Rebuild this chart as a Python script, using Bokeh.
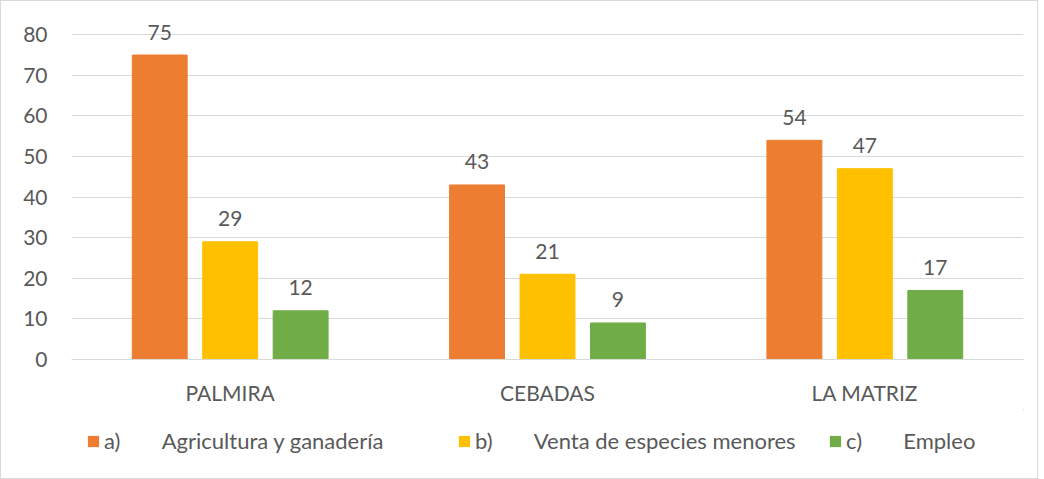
from bokeh.plotting import figure
from bokeh.models import (FactorRange, Range1d, FixedTicker, ColumnDataSource, LabelSet,
                          Legend, LegendItem)
from bokeh.core.properties import value
from bokeh.transform import dodge
from bokeh.layouts import column
from bokeh.embed import file_html
from bokeh.resources import INLINE

categories = ["PALMIRA", "CEBADAS", "LA MATRIZ"]
agricultura = [75, 43, 54]
venta = [29, 21, 47]
empleo = [12, 9, 17]
series_names = ["a)\u2003\u2002\u2009\u2002Agricultura y ganadería",
                "b)\u2003\u2002\u2009\u2002Venta de especies menores",
                "c)\u2003\u2002\u2009\u2002Empleo"]
colors = ["#ED7D31", "#FFC000", "#70AD47"]
y_ticks = [0, 10, 20, 30, 40, 50, 60, 70, 80]

FONT = "Lato"
TXT = "#595959"
GRID = "#d9d9d9"

src = ColumnDataSource(dict(cat=categories, a=agricultura, b=venta, c=empleo,
                            la=[str(v) for v in agricultura],
                            lb=[str(v) for v in venta],
                            lc=[str(v) for v in empleo]))

p = figure(width=1036, height=408, x_range=FactorRange(*categories, range_padding=0),
           y_range=Range1d(0, 84), output_backend="svg", toolbar_location=None,
           min_border_left=70, min_border_right=14, min_border_top=17, min_border_bottom=50)
p.outline_line_color = None
p.xgrid.grid_line_color = None
p.ygrid.grid_line_color = GRID
p.ygrid.ticker = FixedTicker(ticks=y_ticks)
p.yaxis.ticker = FixedTicker(ticks=y_ticks)

for ax in (p.xaxis, p.yaxis):
    ax.major_tick_line_color = None
    ax.minor_tick_line_color = None
    ax.major_tick_out = 0
    ax.major_label_text_font = FONT
    ax.major_label_text_font_size = "21px"
    ax.major_label_text_color = TXT
p.yaxis.axis_line_color = None
p.yaxis.major_label_standoff = 24
p.xaxis.axis_line_color = GRID
p.xaxis.major_label_standoff = 20

offsets = [-0.222, 0.0, 0.222]
cols = ["a", "b", "c"]
lcols = ["la", "lb", "lc"]
for off, col, lc, color in zip(offsets, cols, lcols, colors):
    p.vbar(x=dodge("cat", off, range=p.x_range), top=col, width=0.173, source=src,
           fill_color=color, line_color=color)
    lbl = LabelSet(x=dodge("cat", off, range=p.x_range), y=col, text=lc, source=src,
                   text_align="center", text_baseline="middle", y_offset=23,
                   text_font=value(FONT), text_font_size="21px", text_color=TXT)
    p.add_layout(lbl)

# legend strip below the chart: its series proxies fall outside its visible ranges,
# so only the legend swatches and labels show
pl = figure(width=1036, height=69, x_range=Range1d(-2, -1), y_range=Range1d(-2, -1),
            output_backend="svg", toolbar_location=None,
            x_axis_location=None, y_axis_location=None, min_border=0)
pl.outline_line_color = None
pl.grid.visible = False
leg_renderers = [pl.vbar(x=col, bottom=col, top=col, width=0.173, source=src,
                         fill_color=c, line_color=None)
                 for col, c in zip(cols, colors)]
lg = Legend(items=[LegendItem(label=n, renderers=[r]) for n, r in zip(series_names, leg_renderers)],
            location=(15, 24), orientation="horizontal", padding=0, margin=0,
            spacing=0, label_width=353, border_line_color=None, background_fill_alpha=0,
            glyph_width=14, glyph_height=14, label_standoff=4,
            label_text_font=FONT, label_text_font_size="22px", label_text_color=TXT)
pl.add_layout(lg, "center")

layout = column(p, pl, spacing=0)
layout.styles = {"border": "1px solid #d9d9d9"}

open("out.html", "w").write(file_html(layout, INLINE))
